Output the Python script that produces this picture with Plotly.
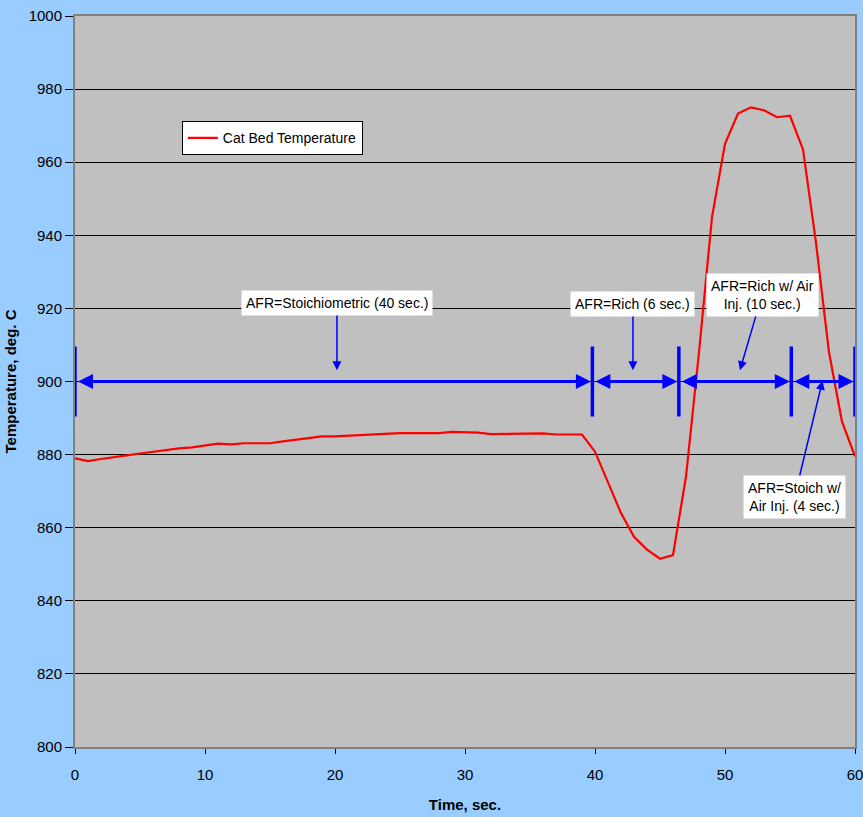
import plotly.graph_objects as go

# ---- data ----
time_s = list(range(0, 61))
cat_bed_temp = [
    879.0, 878.2, 878.8, 879.2, 879.8, 880.3, 880.8, 881.2, 881.7, 882.0,
    882.5, 883.0, 882.8, 883.1, 883.1, 883.1, 883.6, 884.0, 884.5, 885.0,
    885.0, 885.2, 885.2, 885.4, 885.7, 885.9, 885.9, 885.9, 885.9, 886.2,
    886.2, 886.0, 885.6, 885.6, 885.8, 885.8, 885.8, 885.5, 885.5, 885.5,
    880.8, 872.5, 864.0, 857.5, 854.0, 851.5, 852.5, 874.0, 908.0, 945.0,
    965.0, 973.3, 975.0, 974.2, 972.3, 972.7, 963.5, 938.0, 908.0, 889.0,
    879.5,
]
phase_bounds = [0, 39.8, 46.45, 55.1, 60]
phase_level = 900
phase_labels = [
    "AFR=Stoichiometric (40 sec.)",
    "AFR=Rich (6 sec.)",
    "AFR=Rich w/ Air<br>Inj. (10 sec.)",
    "AFR=Stoich w/<br>Air Inj. (4 sec.)",
]
# (arrow head x, arrow head y, label x, label y)
label_pos = [
    (20.15, 903.1, 20.15, 921.5),
    (42.92, 903.1, 42.92, 921.2),
    (51.15, 903.1, 52.85, 923.7),
    (57.5, 900.2, 55.35, 868.4),
]
x_ticks = [0, 10, 20, 30, 40, 50, 60]
y_ticks = [800, 820, 840, 860, 880, 900, 920, 940, 960, 980, 1000]

FONT = "Liberation Sans Narrow, Arial Narrow, Liberation Sans, Arial, sans-serif"
BLUE = "#0000FF"

fig = go.Figure()
fig.add_trace(go.Scatter(
    x=time_s, y=cat_bed_temp, mode="lines", name="Cat Bed Temperature",
    line=dict(color="#FF0000", width=2.2),
))
# vertical phase boundary bars
fig.add_trace(go.Scatter(
    x=phase_bounds, y=[phase_level] * len(phase_bounds), mode="markers",
    marker=dict(symbol="line-ns-open", size=50, color=BLUE,
                line=dict(color=BLUE, width=3.5)),
    cliponaxis=False, showlegend=False, hoverinfo="skip",
))

annotations = []
for a, b in zip(phase_bounds[:-1], phase_bounds[1:]):
    annotations.append(dict(
        x=b, y=phase_level, ax=a, ay=phase_level, xref="x", yref="y",
        axref="x", ayref="y", text="", showarrow=True, arrowside="end+start",
        arrowhead=2, arrowsize=1.0, arrowwidth=3, arrowcolor=BLUE,
        standoff=1.5, startstandoff=1.5,
    ))
for lab, (hx, hy, tx, ty) in zip(phase_labels, label_pos):
    annotations.append(dict(
        x=hx, y=hy, ax=tx, ay=ty, xref="x", yref="y", axref="x", ayref="y",
        text=lab, showarrow=True, arrowhead=2, arrowsize=1.2, arrowwidth=1.5,
        arrowcolor=BLUE, bgcolor="white", borderpad=4,
        font=dict(family=FONT, size=14, color="black"),
    ))

fig.update_layout(
    width=863, height=817,
    paper_bgcolor="#99CCFF", plot_bgcolor="#C0C0C0",
    margin=dict(l=75, r=8, t=16, b=70),
    font=dict(family=FONT, size=15, color="black"),
    annotations=annotations,
    showlegend=True,
    legend=dict(
        x=0.137, y=0.856, xanchor="left", yanchor="top",
        bgcolor="white", bordercolor="black", borderwidth=1,
        font=dict(family=FONT, size=14, color="black"),
    ),
    xaxis=dict(
        range=[0, 60], tickvals=x_ticks, showgrid=False, zeroline=False,
        showline=True, linecolor="#808080", linewidth=2, mirror=True,
        ticks="outside", ticklen=5, tickcolor="black", ticklabelstandoff=8,
        automargin=False, ticklabeloverflow="allow",
        title=dict(text="<b>Time, sec.</b>", font=dict(size=15), standoff=17),
    ),
    yaxis=dict(
        range=[800, 1000], tickvals=y_ticks, showgrid=True, gridcolor="black",
        gridwidth=1, zeroline=False, automargin=False, ticklabeloverflow="allow",
        showline=True, linecolor="#808080", linewidth=2, mirror=True,
        ticks="outside", ticklen=8, tickcolor="black",
        title=dict(text="<b>Temperature, deg. C</b>", font=dict(size=15), standoff=8),
    ),
)

fig.write_html(
    "out.html",
    config={"displayModeBar": False},
    post_script="document.body.style.margin='0';document.body.style.padding='0';",
)
